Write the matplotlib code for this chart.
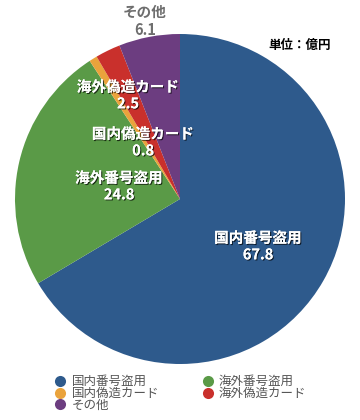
import matplotlib.pyplot as plt
import matplotlib.patheffects as pe
from matplotlib.lines import Line2D

plt.rcParams['font.family'] = ['Noto Sans CJK JP', 'DejaVu Sans']

categories = ['国内番号盗用', '海外番号盗用', '国内偽造カード', '海外偽造カード', 'その他']
values = [67.8, 24.8, 0.8, 2.5, 6.1]
colors = ['#2e5a8c', '#5a9a47', '#eaa33c', '#c9302c', '#6c3d80']
unit_label = '単位：億円'

fig = plt.figure(figsize=(3.6, 4.2), dpi=100)
ax = fig.add_axes([0, 0, 1, 1])

wedges, _ = ax.pie(values, colors=colors, startangle=90, counterclock=False,
                   center=(180, 221), radius=165, frame=True,
                   wedgeprops={'linewidth': 0})
ax.set_xlim(0, 360)
ax.set_ylim(0, 420)
ax.set_aspect('equal')
ax.axis('off')

shadow = [pe.withSimplePatchShadow(offset=(0.8, -0.8), shadow_rgbFace='black', alpha=0.7),
          pe.Normal()]

# label positions in pixel coords (y from top)
label_pos = [(258, 246), (119, 186), (143, 142), (128, 95)]
for (x, y), name, v in zip(label_pos, categories[:4], values[:4]):
    ax.text(x, 420 - y, f'{name}\n{v}', ha='center', va='center', color='white',
            fontsize=10.5, fontweight='bold', linespacing=1.05, path_effects=shadow)

ax.text(145, 420 - 21, f'{categories[4]}\n{values[4]}', ha='center', va='center',
        color='#6e6e6e', fontsize=10.5, fontweight='bold', linespacing=1.15)

ax.text(300, 420 - 45, unit_label, ha='center', va='center', color='black',
        fontsize=9, fontweight='bold')

handles = [Line2D([], [], marker='o', linestyle='none', markersize=8,
                  markerfacecolor=c, markeredgewidth=0) for c in colors]
order = [0, 2, 4, 1, 3]
ax.legend([handles[i] for i in order], [categories[i] for i in order], ncol=2,
          loc='upper left', bbox_to_anchor=(49 / 360, 1 - 369 / 420),
          bbox_transform=fig.transFigure, frameon=False, fontsize=9,
          handlelength=0.8, handletextpad=0.5, columnspacing=3.5,
          labelspacing=-0.1, borderpad=0, labelcolor='#555555')

fig.savefig('out.png', dpi=100)
